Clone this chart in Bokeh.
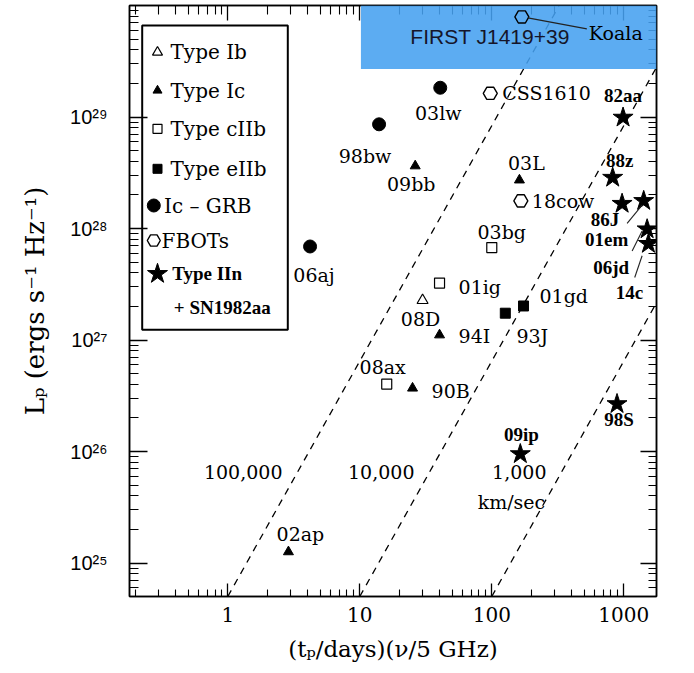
import numpy as np
from bokeh.plotting import figure
from bokeh.models import (Range1d, LogAxis, FixedTicker, CustomJSTickFormatter,
                          BoxAnnotation, Label)
from bokeh.core.properties import value
from bokeh.embed import file_html
from bokeh.resources import INLINE

# ---------------- data ----------------
ib_names = ["08D"]
ib_x = [29.9]
ib_y = [2.27e27]

ic_names = ["09bb", "03L", "94I", "90B", "02ap"]
ic_x = [26.3, 162.0, 40.2, 25.1, 2.88]
ic_y = [3.64e28, 2.72e28, 1.11e27, 3.7e26, 1.26e25]

cIIb_names = ["01ig", "03bg", "08ax"]
cIIb_x = [40.2, 100.0, 16.0]
cIIb_y = [3.24e27, 6.74e27, 4.03e26]

eIIb_names = ["93J", "01gd"]
eIIb_x = [126.6, 174.0]
eIIb_y = [1.74e27, 2.02e27]

grb_names = ["03lw", "98bw", "06aj"]
grb_x = [40.7, 14.0, 4.2]
grb_y = [1.83e29, 8.6e28, 6.9e27]

fbot_names = ["CSS1610", "18cow", "Koala"]
fbot_x = [97.4, 166.0, 169.0]
fbot_y = [1.63e29, 1.77e28, 7.9e29]

iin_names = ["82aa", "88z", "86J", "01em", "06jd", "14c", "98S", "09ip"]
iin_x = [988.0, 824.0, 971.0, 1416.0, 1503.0, 1537.0, 889.0, 164.5]
iin_y = [9.9e28, 2.86e28, 1.67e28, 1.77e28, 9.86e27, 7.3e27, 2.67e26, 9.5e25]

velocities = [100000, 10000, 1000]          # km/s
velocity_labels = ["100,000", "10,000", "1,000"]

first_name = "FIRST J1419+39"
first_left_x = 10.2
first_bottom_y = 2.7e29

legend_labels = ["Type Ib", "Type Ic", "Type cIIb", "Type eIIb", "Ic – GRB", "FBOTs"]

x_ticks = [1, 10, 100, 1000]
y_ticks = [1e25, 1e26, 1e27, 1e28, 1e29]

# ---------------- layout ----------------
X_MIN, X_MAX = 0.18, 1770.0
Y_MIN, Y_MAX = 10 ** 24.7, 1e30
FL, FR, FT, FB = 129, 656, 5, 596
W, H = 694, 673
PPD_X = (FR - FL) / (np.log10(X_MAX) - np.log10(X_MIN))
PPD_Y = (FB - FT) / (np.log10(Y_MAX) - np.log10(Y_MIN))


def px2x(px):
    return 10 ** (np.log10(X_MIN) + (px - FL) / PPD_X)


def px2y(py):
    return 10 ** (np.log10(Y_MAX) - (py - FT) / PPD_Y)


def shift(x, y, ox, oy):
    return x * 10 ** (ox / PPD_X), y * 10 ** (-oy / PPD_Y)


SERIF = value("DejaVu Serif")
BOLD_SERIF = value("Liberation Serif")
LAB_SIZE = "19px"

p = figure(width=W, height=H, x_axis_type="log", y_axis_type="log",
           x_range=Range1d(X_MIN, X_MAX), y_range=Range1d(Y_MIN, Y_MAX),
           output_backend="svg", toolbar_location=None,
           min_border_left=FL, min_border_right=W - FR,
           min_border_top=FT, min_border_bottom=H - FB)
p.grid.visible = False
p.outline_line_color = "black"
p.outline_line_width = 1.5
p.background_fill_color = "white"

x_minor = [m * 10.0 ** e for e in range(-1, 4) for m in range(2, 10)]
y_minor = [m * 10.0 ** e for e in range(24, 30) for m in range(2, 10)]


def style_axis(ax, ticks, minor, tin, min_in, labels=True):
    ax.ticker = FixedTicker(ticks=ticks, minor_ticks=minor)
    ax.axis_line_color = "black"
    ax.axis_line_width = 1.5
    ax.major_tick_in = tin
    ax.major_tick_out = 0
    ax.minor_tick_in = min_in
    ax.minor_tick_out = 0
    ax.major_tick_line_color = "black"
    ax.minor_tick_line_color = "black"
    ax.major_tick_line_width = 1.3
    ax.minor_tick_line_width = 1.1
    if not labels:
        ax.formatter = CustomJSTickFormatter(code="return ''")
        ax.major_label_text_font_size = "0px"
        ax.major_label_standoff = 0


xa = p.xaxis[0]
style_axis(xa, x_ticks, x_minor, 13, 7)
xa.formatter = CustomJSTickFormatter(code="return String(Math.round(tick))")
xa.major_label_text_font = "DejaVu Serif"
xa.major_label_text_font_size = "20px"
xa.major_label_text_color = "black"
xa.major_label_standoff = 10
xa.axis_label = "(tₚ/days)(ν/5 GHz)"
xa.axis_label_text_font = "DejaVu Serif"
xa.axis_label_text_font_style = "normal"
xa.axis_label_text_font_size = "23px"
xa.axis_label_text_color = "black"
xa.axis_label_standoff = 11

ya = p.yaxis[0]
style_axis(ya, y_ticks, y_minor, 18, 9)
ya.formatter = CustomJSTickFormatter(code="""
const e = Math.round(Math.log10(tick));
const m = {"0":"⁰","1":"¹","2":"²","3":"³","4":"⁴","5":"⁵","6":"⁶","7":"⁷","8":"⁸","9":"⁹","-":"⁻"};
return "10" + String(e).split("").map(c => m[c]).join("");
""")
ya.major_label_text_font = "Liberation Sans"
ya.major_label_text_font_size = "20px"
ya.major_label_text_color = "black"
ya.major_label_standoff = 22
ya.axis_label = "Lₚ (ergs s⁻¹ Hz⁻¹)"
ya.axis_label_text_font = "DejaVu Serif"
ya.axis_label_text_font_style = "normal"
ya.axis_label_text_font_size = "26px"
ya.axis_label_text_color = "black"
ya.axis_label_standoff = 17

top_ax = LogAxis()
style_axis(top_ax, x_ticks, x_minor, 15, 9, labels=False)
p.add_layout(top_ax, "above")
right_ax = LogAxis()
style_axis(right_ax, y_ticks, y_minor, 16, 8, labels=False)
p.add_layout(right_ax, "right")

# ---------------- velocity lines ----------------
ALPHA_IDX = 19.0 / 9.0
L_REF, V_REF = Y_MIN, 1e5
L_LAB = px2y(471.7)
for v, lab in zip(velocities, velocity_labels):
    x_lo = V_REF / v * (Y_MIN / L_REF) ** (1 / ALPHA_IDX)
    x_hi = V_REF / v * (Y_MAX / L_REF) ** (1 / ALPHA_IDX)
    xs = np.array([x_lo, x_hi])
    ys = L_REF * (v * xs / V_REF) ** ALPHA_IDX
    p.line(xs, ys, line_color="black", line_width=1.3, line_dash="7 6")
    x_at = V_REF / v * (L_LAB / L_REF) ** (1 / ALPHA_IDX)
    p.text(x=[x_at], y=[L_LAB], text=[lab], x_offset=-15, y_offset=0,
           text_font=SERIF, text_font_size=LAB_SIZE, text_align="right",
           text_baseline="middle", text_color="black")
    if v == velocities[-1]:
        p.text(x=[x_at], y=[L_LAB], text=["km/sec"], x_offset=-50, y_offset=30,
               text_font=SERIF, text_font_size=LAB_SIZE, text_align="center",
               text_baseline="middle", text_color="black")

# ---------------- FIRST J1419+39 box ----------------
blue = BoxAnnotation(left=first_left_x, bottom=first_bottom_y, fill_color="#45a0f0",
                     fill_alpha=0.88, line_color=None)
p.add_layout(blue)
p.add_layout(Label(x=97.0, y=px2y(36), text=first_name, text_font="Liberation Sans",
                   text_font_size="21px", text_color="#15152a", text_align="center",
                   text_baseline="middle"))

# ---------------- data markers ----------------
groups = [
    (ib_names, ib_x, ib_y, dict(marker="triangle", size=11, fill_color="white", line_color="black", line_width=1.2)),
    (ic_names, ic_x, ic_y, dict(marker="triangle", size=10, fill_color="black", line_color="black")),
    (cIIb_names, cIIb_x, cIIb_y, dict(marker="square", size=10, fill_color="white", line_color="black", line_width=1.2)),
    (eIIb_names, eIIb_x, eIIb_y, dict(marker="square", size=10, fill_color="black", line_color="black")),
    (grb_names, grb_x, grb_y, dict(marker="circle", size=13, fill_color="black", line_color="black")),
    (fbot_names, fbot_x, fbot_y, dict(marker="hex", size=14, fill_color=None, line_color="black", line_width=1.4)),
    (iin_names, iin_x, iin_y, dict(marker="star", size=21, fill_color="black", line_color="black")),
]

# label placement: (dx px, dy px down, align)
label_pos = {
    "03lw": (-2, 25, "center"), "98bw": (-14, 32, "center"), "06aj": (4, 29, "center"),
    "09bb": (-4, 18, "center"), "03L": (7, -17, "center"), "94I": (19, 1, "left"),
    "90B": (19, 3, "left"), "02ap": (12, -18, "center"), "08D": (-2, 19, "center"),
    "01ig": (19, 4, "left"), "03bg": (10, -16, "center"), "08ax": (-4, -17, "center"),
    "93J": (27, 23, "center"), "01gd": (16, -10, "left"), "CSS1610": (12, 0, "left"),
    "18cow": (11, 0, "left"), "Koala": (67, 16, "left"),
    "82aa": (0, -22, "center"), "88z": (7, -17, "center"), "86J": (-17, 16, "center"),
    "01em": (-37, 39, "center"), "06jd": (-36, 38, "center"), "14c": (-19, 49, "center"),
    "98S": (2, 16, "center"), "09ip": (1, -20, "center"),
}
leaders = {
    "Koala": (6, 1, 65, 12),
    "01em": (-1.6, 4.3, -16.6, 22.6),
    "06jd": (-5, 1.7, -15, 21.7),
    "14c": (-6.3, 12, -13.7, 33.7),
}

for names, xs, ys, st in groups:
    is_iin = names is iin_names
    for n, x, y in zip(names, xs, ys):
        over = y > first_bottom_y and x > first_left_x
        r = p.scatter([x], [y], **st)
        if over:
            r.level = "overlay"
        dx, dy, al = label_pos[n]
        t = p.text(x=[x], y=[y], text=[n], x_offset=dx, y_offset=dy,
                   text_font=BOLD_SERIF if is_iin else SERIF,
                   text_font_style="bold" if is_iin else "normal",
                   text_font_size="19px" if is_iin else LAB_SIZE,
                   text_align=al, text_baseline="middle", text_color="black")
        if over:
            t.level = "overlay"
        if n in leaders:
            a, b, c, d = leaders[n]
            x0, y0 = shift(x, y, a, b)
            x1, y1 = shift(x, y, c, d)
            s = p.segment(x0=[x0], y0=[y0], x1=[x1], y1=[y1], line_color="#222",
                          line_width=1.1)
            if over:
                s.level = "overlay"

# ---------------- legend (drawn by hand) ----------------
leg_box = BoxAnnotation(left=px2x(141.7), right=px2x(287.3), top=px2y(25), bottom=px2y(329.3),
                        fill_color="white", fill_alpha=1.0, line_color="black", line_alpha=1.0,
                        line_width=2, level="underlay")
p.add_layout(leg_box)
leg_rows_y = [51.7, 90, 128.3, 168.3, 205, 240]
leg_marker_x = [157, 157, 157, 157, 153.3, 153.3]
leg_text_x = [170, 170, 170, 170, 163.5, 161]
for (names, xs, ys, st), my, mx, tx, lab in zip(groups[:6], leg_rows_y, leg_marker_x, leg_text_x, legend_labels):
    st2 = dict(st)
    if st2["marker"] in ("triangle", "square"):
        st2["size"] = st2["size"] - 1
    if st2["marker"] == "hex":
        st2["size"] = 13
    r = p.scatter([px2x(mx)], [px2y(my)], **st2)
    r.level = "overlay"
    t = p.text(x=[px2x(tx)], y=[px2y(my)], text=[lab], text_font=SERIF, text_font_size="20px",
               text_align="left", text_baseline="middle", text_color="black")
    t.level = "overlay"
st_star = dict(groups[6][3])
r = p.scatter([px2x(157)], [px2y(273.3)], **st_star)
r.level = "overlay"
for txt, tx, ty in [("Type IIn", 171.7, 273.3), ("+ SN1982aa", 173.3, 306.7)]:
    t = p.text(x=[px2x(tx)], y=[px2y(ty)], text=[txt], text_font=BOLD_SERIF,
               text_font_style="bold", text_font_size="19px", text_align="left",
               text_baseline="middle", text_color="black")
    t.level = "overlay"

open("out.html", "w").write(file_html(p, INLINE))
